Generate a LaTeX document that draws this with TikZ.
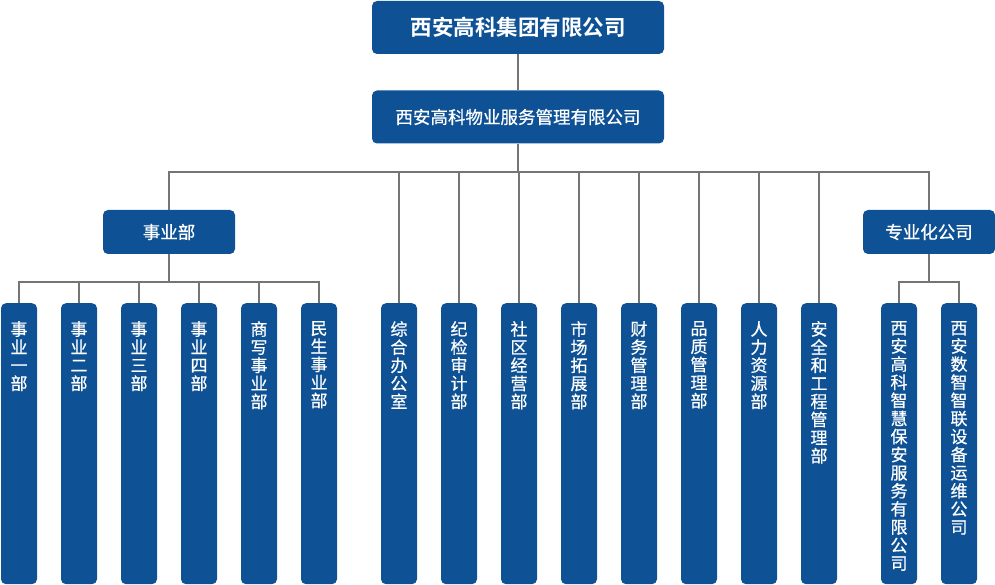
\documentclass[tikz,border=0pt]{standalone}
\usepackage{fontspec}
\setmainfont{Noto Sans CJK SC}
\newfontfamily\cjk[FakeBold=0.6]{Noto Sans CJK SC}
\newfontfamily\cjkb{Noto Sans CJK SC Bold}
\definecolor{boxblue}{RGB}{14,82,149}
\definecolor{linegray}{RGB}{117,117,117}
\newcommand{\colbody}[1]{\parbox[t][281pt][t]{24pt}{\centering\lineskiplimit=-10pt\fontsize{17}{18.1}\selectfont\vspace*{18pt}#1}}
\tikzset{
  bx/.style={fill=boxblue, draw=none, rounded corners=5pt, text=white, font=\cjk, inner sep=0pt},
  bigbox/.style={bx, minimum width=292pt, minimum height=53pt},
  midbox/.style={bx, minimum width=132pt, minimum height=44pt, font=\cjk\fontsize{17.5}{19}\selectfont},
  colbox/.style={bx, minimum width=36pt, anchor=north, inner ysep=0pt},
  conn/.style={draw=linegray, line width=2.3pt}
}
\begin{document}
\begin{tikzpicture}[x=1pt,y=-1pt]
\useasboundingbox (0,0) rectangle (995,585);
\node[bigbox, font=\cjkb\fontsize{21.5}{23}\selectfont] (top) at (518,27.5) {西安高科集团有限公司};
\node[bigbox, font=\cjk\fontsize{17.5}{19}\selectfont] (sub) at (518,117) {西安高科物业服务管理有限公司};
\node[midbox] (syb) at (169,232) {事业部};
\node[midbox] (zyh) at (929,232) {专业化公司};

\coordinate (bus) at (518,172);
\coordinate (bA) at (169,282);
\coordinate (bB) at (929,282);

% business units
\node[colbox] (a1) at (19,303) {\colbody{事\\业\\一\\部}};
\node[colbox] (a2) at (79,303) {\colbody{事\\业\\二\\部}};
\node[colbox] (a3) at (139,303) {\colbody{事\\业\\三\\部}};
\node[colbox] (a4) at (199,303) {\colbody{事\\业\\四\\部}};
\node[colbox] (a5) at (259,303) {\colbody{商\\写\\事\\业\\部}};
\node[colbox] (a6) at (319,303) {\colbody{民\\生\\事\\业\\部}};
% departments
\node[colbox] (d1) at (399,303) {\colbody{综\\合\\办\\公\\室}};
\node[colbox] (d2) at (459,303) {\colbody{纪\\检\\审\\计\\部}};
\node[colbox] (d3) at (519,303) {\colbody{社\\区\\经\\营\\部}};
\node[colbox] (d4) at (579,303) {\colbody{市\\场\\拓\\展\\部}};
\node[colbox] (d5) at (639,303) {\colbody{财\\务\\管\\理\\部}};
\node[colbox] (d6) at (699,303) {\colbody{品\\质\\管\\理\\部}};
\node[colbox] (d7) at (759,303) {\colbody{人\\力\\资\\源\\部}};
\node[colbox] (d8) at (819,303) {\colbody{安\\全\\和\\工\\程\\管\\理\\部}};
% companies
\node[colbox] (s1) at (899,303) {\colbody{西\\安\\高\\科\\智\\慧\\保\\安\\服\\务\\有\\限\\公\\司}};
\node[colbox] (s2) at (959,303) {\colbody{西\\安\\数\\智\\智\\联\\设\\备\\运\\维\\公\\司}};

\begin{scope}[conn]
\draw (top.south) -- (sub.north);
\draw (sub.south) -- (bus);
\draw (syb.north) |- (bus);
\draw (zyh.north) |- (bus);
\foreach \n in {d1,d2,d3,d4,d5,d6,d7,d8} \draw (\n.north) |- (bus);
\draw (syb.south) -- (bA);
\foreach \n in {a1,a2,a3,a4,a5,a6} \draw (\n.north) |- (bA);
\draw (zyh.south) -- (bB);
\foreach \n in {s1,s2} \draw (\n.north) |- (bB);
\end{scope}
\end{tikzpicture}
\end{document}
